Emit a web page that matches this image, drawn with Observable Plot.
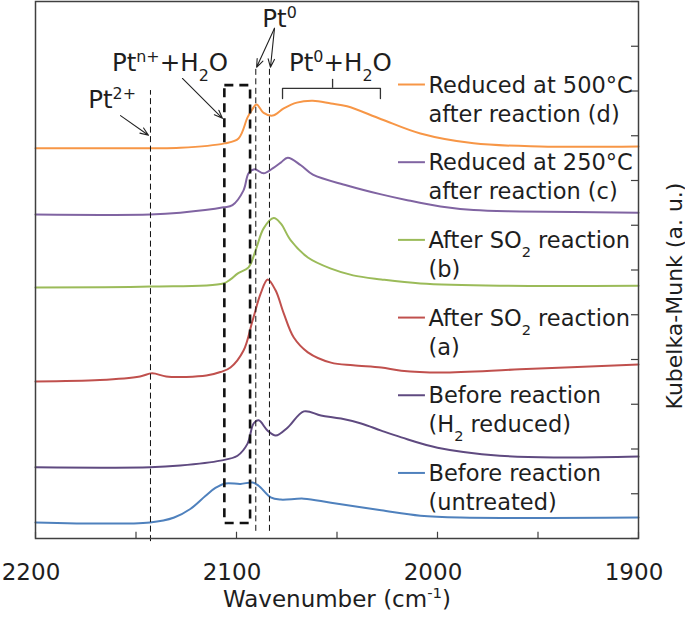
<!DOCTYPE html>
<html>
<head>
<meta charset="utf-8">
<script src="https://cdn.jsdelivr.net/npm/d3@7"></script>
<script src="https://cdn.jsdelivr.net/npm/@observablehq/plot@0.6"></script>
<style>
  html, body { margin: 0; padding: 0; background: #ffffff; }
  #chart { width: 685px; height: 624px; }
</style>
</head>
<body>
<div id="chart"></div>
<script>
// ---------- data ----------
const seriesLabels = [
  ["Reduced at 500°C", "after reaction (d)"],
  ["Reduced at 250°C", "after reaction (c)"],
  ["After SO_{2} reaction", "(b)"],
  ["After SO_{2} reaction", "(a)"],
  ["Before reaction", "(H_{2} reduced)"],
  ["Before reaction", "(untreated)"]
];
const seriesColors = ["#f79646", "#8064a2", "#9bbb59", "#c0504d", "#5f4a80", "#4f81bd"];

const wnD  = [2200, 2143, 2128, 2106, 2099, 2094.5, 2092, 2090, 2086.5, 2082, 2076.5, 2070, 2062, 2053, 2045, 2028, 2008.5, 1982, 1949, 1900];
const valD = [8.72, 8.72, 8.73, 8.83, 8.94, 9.41, 9.60, 9.70, 9.51, 9.45, 9.61, 9.74, 9.78, 9.72, 9.66, 9.37, 9.05, 8.83, 8.76, 8.76];

const wnC  = [2200, 2143, 2128, 2106.5, 2102, 2096.5, 2094, 2091, 2086.5, 2082, 2078, 2074.5, 2068, 2062, 2045, 2028, 2015, 1998.5, 1982, 1959, 1900];
const valC = [7.24, 7.24, 7.28, 7.40, 7.45, 7.78, 8.16, 8.25, 8.16, 8.27, 8.40, 8.51, 8.34, 8.13, 7.89, 7.69, 7.56, 7.42, 7.34, 7.31, 7.28];

const wnB  = [2200, 2143, 2106.5, 2103, 2099.5, 2094, 2090.5, 2086.5, 2081.5, 2078, 2073, 2064.5, 2053, 2042, 2028, 2008.5, 1969, 1900];
const valB = [5.61, 5.63, 5.70, 5.79, 5.92, 6.06, 6.44, 6.93, 7.16, 7.04, 6.66, 6.28, 6.03, 5.88, 5.79, 5.70, 5.65, 5.65];

const wnA  = [2200, 2168, 2148, 2142, 2135, 2125, 2115, 2108, 2103, 2096.5, 2092, 2088, 2084.5, 2080.5, 2076.5, 2071.5, 2064.5, 2053, 2042, 2028, 2018, 1998.5, 1959, 1900];
const valA = [3.51, 3.54, 3.62, 3.69, 3.62, 3.61, 3.64, 3.72, 3.82, 4.20, 4.87, 5.47, 5.79, 5.54, 5.03, 4.49, 4.16, 3.93, 3.87, 3.82, 3.75, 3.71, 3.78, 3.89];

const wnH  = [2200, 2143, 2128, 2108, 2099.5, 2094.5, 2091.5, 2089, 2084.5, 2080.5, 2074.5, 2066.5, 2058, 2048, 2038, 2028, 2018, 2000, 1969, 1939, 1900];
const valH = [1.59, 1.59, 1.63, 1.74, 1.85, 2.12, 2.57, 2.64, 2.41, 2.30, 2.48, 2.84, 2.75, 2.68, 2.57, 2.41, 2.26, 2.03, 1.85, 1.81, 1.83];

const wnU  = [2200, 2143, 2131, 2123, 2115.5, 2110.5, 2105.5, 2098, 2092, 2089, 2083, 2078, 2066.5, 2053, 2028, 2008.5, 1988.5, 1900];
const valU = [0.36, 0.36, 0.47, 0.66, 0.95, 1.13, 1.23, 1.22, 1.25, 1.18, 0.92, 0.87, 0.89, 0.80, 0.63, 0.51, 0.47, 0.47];

const xTickLabels = [2200, 2100, 2000, 1900];
const xMinorTicks = [2200, 2150, 2100, 2050, 2000, 1950, 1900];
const yTicks = [0, 1, 2, 3, 4, 5, 6, 7, 8, 9, 10, 11, 12];

// annotations
const markerWn = [2142.8, 2090.4, 2083.6];
const markerTop = [10.01, 10.55, 10.55];
const markerBottom = [-0.07, 0.16, 0.16];
const boxWn = [2105.8, 2093.0];
const boxV = [0.335, 10.12];
const annText = ["Pt^{2+}", "Pt^{n+}+H_{2}O", "Pt^{0}", "Pt^{0}+H_{2}O"];
const annWn = [2161.9, 2133.1, 2078.6, 2048.3];
const annV = [9.63, 10.44, 11.42, 10.44];
const arrowWn1 = [2157.7, 2126.9, 2081.1, 2081.1];
const arrowV1 = [9.45, 10.28, 11.40, 11.40];
const arrowWn2 = [2143.8, 2107.0, 2090.0, 2083.1];
const arrowV2 = [9.01, 9.39, 10.53, 10.53];
const bracketWn = [2077.1, 2077.1, 2028.4, 2028.4];
const bracketV = [9.83, 10.06, 10.06, 9.83];
const bracketMid = [2052.2, 10.06, 10.26];

// legend placement (data units)
const legendWn = [2019.4, 2006.0, 2004.5];
const legendTop = 10.145, legendStep = 1.736, legendLine2 = 0.648;

// ---------- build ----------
const seriesWn = [wnD, wnC, wnB, wnA, wnH, wnU];
const seriesVal = [valD, valC, valB, valA, valH, valU];
const rows = [];
seriesWn.forEach((wn, s) => wn.forEach((w, i) => rows.push({s, w, v: seriesVal[s][i]})));

const legendRows = seriesLabels.map((lab, i) => ({
  i, l1: lab[0], l2: lab[1], y: legendTop - i * legendStep
}));

const ink = "#1e1e1e";

const plot = Plot.plot({
  width: 685,
  height: 624,
  marginLeft: 35,
  marginRight: 47,
  marginTop: 1,
  marginBottom: 86,
  style: {fontFamily: "'DejaVu Sans', sans-serif", fontSize: "23px", color: ink, background: "#ffffff"},
  x: {domain: [2200, 1900]},
  y: {domain: [0, 12], axis: null},
  marks: [
    // inward ticks
    Plot.ruleX(xMinorTicks, {y1: 0, y2: 0.14, stroke: "#404040", strokeWidth: 1.2}),
    Plot.ruleY(yTicks, {x1: 1900, x2: 1903.5, stroke: "#404040", strokeWidth: 1.2}),
    Plot.axisX(xTickLabels, {tickSize: 0, tickPadding: 25, dx: -4.5, fontSize: 23, label: null, fill: ink,
      tickFormat: d => String(d)}),
    // spectra
    ...seriesWn.map((_, s) => Plot.line(rows.filter(d => d.s === s), {
      x: "w", y: "v", stroke: seriesColors[s], strokeWidth: 2, curve: "catmull-rom"
    })),
    // dashed markers
    Plot.ruleX(markerWn, {x: d => d, y1: (d, i) => markerBottom[i], y2: (d, i) => markerTop[i],
      stroke: "#111", strokeWidth: 1, strokeDasharray: "6,3.5"}),
    Plot.rect([0], {x1: boxWn[0], x2: boxWn[1], y1: boxV[0], y2: boxV[1],
      fill: "none", stroke: "#111", strokeWidth: 2.6, strokeDasharray: "9,6"}),
    // arrows
    Plot.arrow(arrowWn1, {x1: d => d, y1: (d, i) => arrowV1[i], x2: (d, i) => arrowWn2[i], y2: (d, i) => arrowV2[i],
      stroke: "#222", strokeWidth: 1.1, headLength: 12, headAngle: 42}),
    // bracket
    Plot.line(bracketWn, {x: d => d, y: (d, i) => bracketV[i], stroke: "#333", strokeWidth: 1.3}),
    Plot.ruleX([bracketMid[0]], {y1: bracketMid[1], y2: bracketMid[2], stroke: "#333", strokeWidth: 1.3}),
    // annotation labels
    Plot.text(annText, {x: (d, i) => annWn[i], y: (d, i) => annV[i], text: d => d,
      textAnchor: "middle", lineAnchor: "bottom", fontSize: 24.5, fill: ink}),
    // legend
    Plot.ruleY(legendRows, {x1: legendWn[0], x2: legendWn[1], y: "y", stroke: d => seriesColors[d.i], strokeWidth: 2}),
    Plot.text(legendRows, {x: legendWn[2], y: "y", text: "l1", textAnchor: "start", lineAnchor: "middle", dy: 1, fontSize: 22.5, fill: ink}),
    Plot.text(legendRows, {x: legendWn[2], y: d => d.y - legendLine2, text: "l2", textAnchor: "start", lineAnchor: "middle", dy: 1, fontSize: 22.5, fill: ink}),
    // axis titles
    Plot.text(["Wavenumber (cm^{-1})"], {frameAnchor: "bottom", dy: 68, textAnchor: "middle", lineAnchor: "bottom", fontSize: 23, fill: ink}),
    Plot.text(["Kubelka-Munk (a. u.)"], {frameAnchor: "right", dx: 43, dy: 26, rotate: -90, textAnchor: "middle", lineAnchor: "bottom", fontSize: 22, fill: ink}),
    Plot.frame({stroke: "#404040", strokeWidth: 1.5})
  ]
});

// rich text: ^{...} superscript, _{...} subscript
const svgNS = "http://www.w3.org/2000/svg";
function richify(el) {
  const s = el.textContent;
  if (!/[\^_]\{/.test(s)) return;
  while (el.firstChild) el.removeChild(el.firstChild);
  const re = /([\^_])\{([^}]*)\}/g;
  let last = 0, m;
  while ((m = re.exec(s))) {
    if (m.index > last) el.appendChild(document.createTextNode(s.slice(last, m.index)));
    const t = document.createElementNS(svgNS, "tspan");
    t.setAttribute("baseline-shift", m[1] === "^" ? "super" : "sub");
    t.style.fontSize = "0.65em";
    t.textContent = m[2];
    el.appendChild(t);
    last = re.lastIndex;
  }
  if (last < s.length) el.appendChild(document.createTextNode(s.slice(last)));
}
plot.querySelectorAll("text").forEach(t => {
  const spans = t.querySelectorAll("tspan");
  if (spans.length) spans.forEach(richify); else richify(t);
});

document.getElementById("chart").appendChild(plot);
</script>
</body>
</html>
